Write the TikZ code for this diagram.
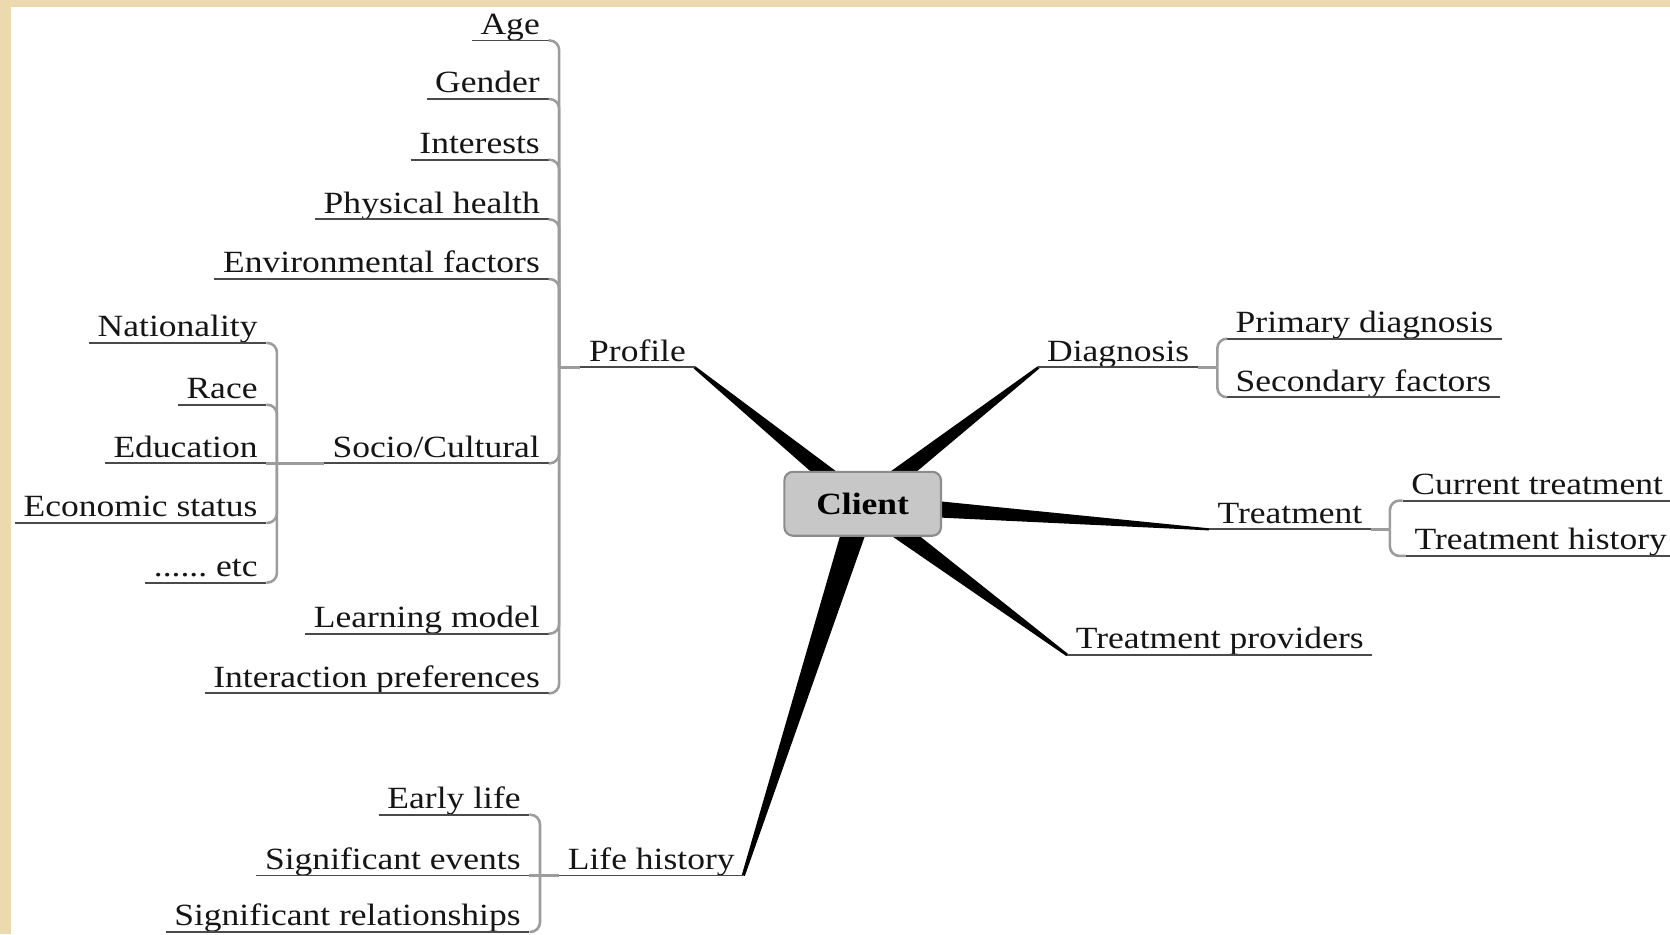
\documentclass[tikz,border=0pt]{standalone}
\usepackage{fontspec}
\setmainfont{Liberation Serif}[FakeStretch=1.15]
\usetikzlibrary{calc,backgrounds}
\definecolor{parch}{HTML}{EDD9AE}
\definecolor{ulcol}{HTML}{4A4A4A}
\definecolor{conncol}{HTML}{9C9C9C}
\definecolor{txtcol}{HTML}{151515}
\tikzset{
  topic/.style={inner xsep=8pt, inner ysep=0pt, text height=0.72em, text depth=0.55em,
    font=\fontsize{29}{34}\selectfont, text=txtcol},
  ul/.style={draw=ulcol, line width=1.8pt},
  conn/.style={draw=conncol, line width=2.4pt, rounded corners=9pt},
  clientbox/.style={draw=black!45, line width=2pt, fill=black!22, rounded corners=8pt,
    minimum width=147pt, minimum height=60pt, font=\fontsize{29}{34}\selectfont\bfseries, text=black}
}
\newcommand{\taper}[4]{% from, to, half width start, half width end
  \fill[black] ($(#1)!#3!90:(#2)$) -- ($(#2)!#4!-90:(#1)$) -- ($(#2)!#4!90:(#1)$) -- ($(#1)!#3!-90:(#2)$) -- cycle;}
\begin{document}
\begin{tikzpicture}[x=1pt,y=-1pt]
\useasboundingbox (0,0) rectangle (1568,877);
\clip (0,0) rectangle (1568,877);
\begin{pgfonlayer}{background}
\fill[white] (0,0) rectangle (1568,877);
\fill[parch] (0,0) rectangle (1568,7);
\fill[parch] (0,0) rectangle (10,877);
\end{pgfonlayer}

% central node
\node[clientbox] (client) at (810,473) {Client};

% Profile branch
\node[topic, anchor=south west] (profile) at (545,345) {Profile};
\coordinate (pj) at (525,345);
\node[topic, anchor=south east] (age) at (515,38) {Age};
\node[topic, anchor=south east] (gender) at (515,93) {Gender};
\node[topic, anchor=south east] (interests) at (515,150) {Interests};
\node[topic, anchor=south east] (phys) at (515,206) {Physical health};
\node[topic, anchor=south east] (env) at (515,262) {Environmental factors};
\node[topic, anchor=south east] (socio) at (515,435) {Socio/Cultural};
\node[topic, anchor=south east] (learn) at (515,595) {Learning model};
\node[topic, anchor=south east] (inter) at (515,651) {Interaction preferences};

% Socio/Cultural sub-branch
\coordinate (sj) at (260,435);
\node[topic, anchor=south east] (nation) at (250,322) {Nationality};
\node[topic, anchor=south east] (race) at (250,380) {Race};
\node[topic, anchor=south east] (edu) at (250,435) {Education};
\node[topic, anchor=south east] (econ) at (250,491) {Economic status};
\node[topic, anchor=south east] (etc) at (250,547) {......~etc};

% Life history
\node[topic, anchor=south west] (life) at (525,822) {Life history};
\coordinate (lj) at (507,822);
\node[topic, anchor=south east] (early) at (497,765) {Early life};
\node[topic, anchor=south east] (sigev) at (497,822) {Significant events};
\node[topic, anchor=south east] (sigrel) at (497,875) {Significant relationships};

% Diagnosis
\node[topic, anchor=south west] (diag) at (975,345) {Diagnosis};
\coordinate (dj) at (1143,345);
\node[topic, anchor=south west] (prim) at (1152,318) {Primary diagnosis};
\node[topic, anchor=south west] (sec) at (1152,373) {Secondary factors};

% Treatment
\node[topic, anchor=south west] (treat) at (1135,497) {Treatment};
\coordinate (tj) at (1305,497);
\node[topic, anchor=south west] (curr) at (1317,470) {Current treatment};
\node[topic, anchor=south west] (hist) at (1320,522) {Treatment history};

% Treatment providers
\node[topic, anchor=south west] (prov) at (1002,615) {Treatment providers};

% underlines
\foreach \n in {profile,age,gender,interests,phys,env,socio,learn,inter,nation,race,edu,econ,etc,life,early,sigev,sigrel,diag,prim,sec,treat,curr,hist,prov}
  \draw[ul] (\n.south west) -- (\n.south east);

% connectors
\foreach \n in {age,gender,interests,phys,env,socio,learn,inter}
  \draw[conn] (\n.south east) -| (pj);
\draw[conn] (pj) -- (profile.south west);
\foreach \n in {nation,race,econ,etc}
  \draw[conn] (\n.south east) -| (sj);
\draw[conn] (edu.south east) -- (sj) -- (socio.south west);
\foreach \n in {early,sigrel}
  \draw[conn] (\n.south east) -| (lj);
\draw[conn] (sigev.south east) -- (lj) -- (life.south west);
\draw[conn] (diag.south east) -- (dj);
\foreach \n in {prim,sec}
  \draw[conn] (dj) |- (\n.south west);
\draw[conn] (treat.south east) -- (tj);
\foreach \n in {curr,hist}
  \draw[conn] (tj) |- (\n.south west);

% tapered main branches (behind the central node)
\begin{pgfonlayer}{background}
\taper{client.center}{profile.south east}{9.5pt}{1.3pt}
\taper{client.center}{diag.south west}{9.5pt}{1.3pt}
\taper{client.center}{treat.south west}{9.5pt}{1pt}
\taper{client.center}{prov.south west}{9.5pt}{1.3pt}
\taper{client.center}{life.south east}{12pt}{1.5pt}
\end{pgfonlayer}
\end{tikzpicture}
\end{document}
